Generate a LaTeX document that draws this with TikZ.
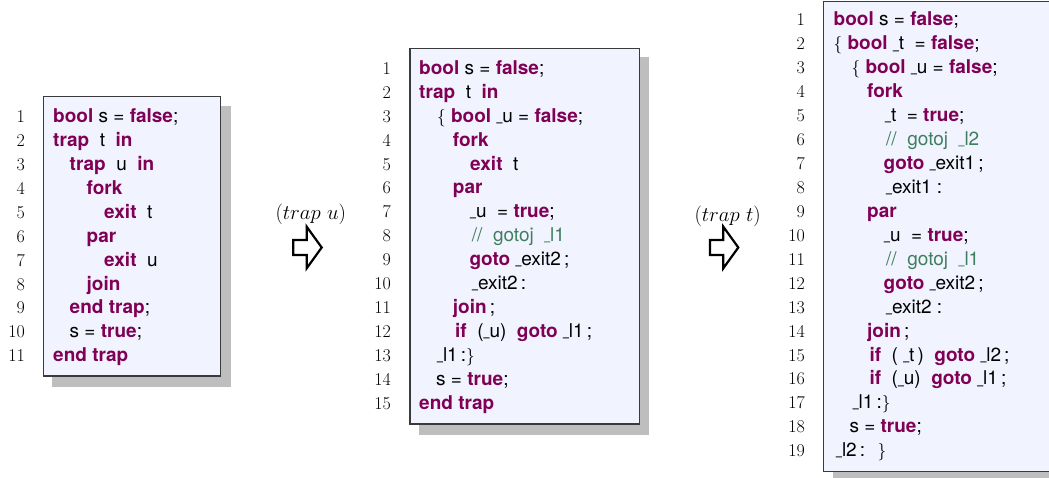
\documentclass[tikz,border=0pt]{standalone}
\usepackage{fontspec}
\usepackage{graphicx}
\newfontfamily\heros{TeX Gyre Heros}
\definecolor{kwc}{HTML}{7F0055}
\definecolor{cmc}{HTML}{3F7F5F}
\definecolor{boxfill}{HTML}{F1F3FF}
\definecolor{boxline}{HTML}{3A3A3A}
\definecolor{shadowc}{HTML}{BEBEBE}
\newcommand\kw[1]{{\bfseries\color{kwc}#1}}
\newcommand\cmt[1]{{\color{cmc}#1}}
\newcommand\us{\scalebox{0.55}[1]{\raisebox{0.1em}{\_}}}
\def\basey{0}
\def\numx{0}
\newcommand\cl[4]{%
  \node[lnum] (#1n#2) at (\numx,{\basey+(#2-1)*23.93}) {#2};
  \node[code] (#1l#2) at (#3,{\basey+(#2-1)*23.93}) {#4};}
\begin{document}
\begin{tikzpicture}[x=1pt,y=-1pt,
  code/.style={anchor=base west, inner sep=0pt, font=\heros\fontsize{19}{22}\selectfont, text=black},
  lnum/.style={anchor=base east, inner sep=0pt, font=\fontsize{18}{21}\selectfont},
  lab/.style={anchor=base, inner sep=0pt, font=\fontsize{21}{25}\selectfont},
  shadowbox/.style={fill=shadowc},
  codebox/.style={draw=boxline, fill=boxfill, line width=1.3pt},
  arrowline/.style={draw=black, line width=2.2pt, line join=miter, fill=white}]
\useasboundingbox (0,0) rectangle (1049,478);
% boxes
\fill[shadowbox] (52,106) rectangle (230.5,386.5);
\draw[codebox] (43.5,96.5) rectangle (220.5,376);
\fill[shadowbox] (418.5,57.5) rectangle (648.5,434.5);
\draw[codebox] (410,48.5) rectangle (639.5,424);
\fill[shadowbox] (833,10.5) rectangle (1070,490);
\draw[codebox] (823.5,1.2) rectangle (1070,471.7);
% box 1
\def\basey{122.5}\def\numx{25}
\cl{a}{1}{53}{\kw{bool} s = \kw{false};}
\cl{a}{2}{53}{\kw{trap}~ t~ \kw{in}}
\cl{a}{3}{69.5}{\kw{trap}~ u~ \kw{in}}
\cl{a}{4}{86.5}{\kw{fork}}
\cl{a}{5}{104}{\kw{exit}~ t}
\cl{a}{6}{86.5}{\kw{par}}
\cl{a}{7}{104}{\kw{exit}~ u}
\cl{a}{8}{86.5}{\kw{join}}
\cl{a}{9}{69.5}{\kw{end trap};}
\cl{a}{10}{69.5}{s = \kw{true};}
\cl{a}{11}{53}{\kw{end trap}}
% box 2
\def\basey{74.3}\def\numx{391}
\cl{b}{1}{419}{\kw{bool} s = \kw{false};}
\cl{b}{2}{419}{\kw{trap}~ t~ \kw{in}}
\cl{b}{3}{437}{$\{$ \kw{bool} \us u = \kw{false};}
\cl{b}{4}{452.7}{\kw{fork}}
\cl{b}{5}{470}{\kw{exit}~ t}
\cl{b}{6}{452.7}{\kw{par}}
\cl{b}{7}{470}{\us u~ = \kw{true};}
\cl{b}{8}{471.7}{\cmt{//~ gotoj~ \us l1}}
\cl{b}{9}{469.3}{\kw{goto} \us exit2\,;}
\cl{b}{10}{472}{\us exit2\,:}
\cl{b}{11}{452.7}{\kw{join}\,;}
\cl{b}{12}{455}{\kw{if}~ (\us u)~ \kw{goto} \us l1\,;}
\cl{b}{13}{437}{\us l1\,:$\}$}
\cl{b}{14}{436}{s = \kw{true};}
\cl{b}{15}{419}{\kw{end trap}}
% box 3
\def\basey{26}\def\numx{805}
\cl{c}{1}{833.5}{\kw{bool} s = \kw{false};}
\cl{c}{2}{833.5}{$\{$ \kw{bool} \us t~ = \kw{false};}
\cl{c}{3}{851.5}{$\{$ \kw{bool} \us u = \kw{false};}
\cl{c}{4}{867}{\kw{fork}}
\cl{c}{5}{885}{\us t~ = \kw{true};}
\cl{c}{6}{886}{\cmt{//~ gotoj~ \us l2}}
\cl{c}{7}{883.5}{\kw{goto} \us exit1\,;}
\cl{c}{8}{886}{\us exit1 :}
\cl{c}{9}{867}{\kw{par}}
\cl{c}{10}{884}{\us u~ = \kw{true};}
\cl{c}{11}{886}{\cmt{//~ gotoj~ \us l1}}
\cl{c}{12}{883.5}{\kw{goto} \us exit2\,;}
\cl{c}{13}{886}{\us exit2 :}
\cl{c}{14}{867}{\kw{join}\,;}
\cl{c}{15}{869.3}{\kw{if}~ ( \us t\,)~ \kw{goto} \us l2\,;}
\cl{c}{16}{869.3}{\kw{if}~ (\us u)~ \kw{goto} \us l1\,;}
\cl{c}{17}{852.7}{\us l1\,:$\}$}
\cl{c}{18}{849.3}{s = \kw{true};}
\cl{c}{19}{836}{\us l2\,:~ $\}$}
% transformation labels and arrows
\node[lab] (lab1) at (310.8,220) {$(trap\ u)$};
\node[lab] (lab2) at (727.7,221.5) {$(trap\ t)$};
\draw[arrowline] (293.3,240) -- (306.7,240) -- (306.7,226.7) -- (321.7,247.5) -- (306.7,268.3) -- (306.7,255) -- (293.3,255) -- cycle;
\draw[arrowline] (710,240) -- (723.3,240) -- (723.3,226.7) -- (738.3,247.5) -- (723.3,268.3) -- (723.3,255) -- (710,255) -- cycle;
\end{tikzpicture}
\end{document}
